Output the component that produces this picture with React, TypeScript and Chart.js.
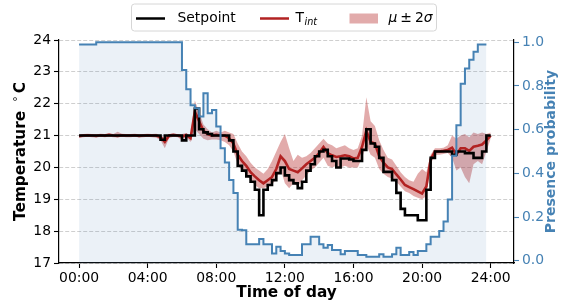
import React, { useEffect, useRef } from 'react';
import { Chart, registerables } from 'chart.js';

Chart.register(...registerables);

// Time of day (hours), 15-minute sampling
const HOURS = [0,0.25,0.5,0.75,1,1.25,1.5,1.75,2,2.25,2.5,2.75,3,3.25,3.5,3.75,4,4.25,4.5,4.75,5,5.25,5.5,5.75,6,6.25,6.5,6.75,7,7.25,7.5,7.75,8,8.25,8.5,8.75,9,9.25,9.5,9.75,10,10.25,10.5,10.75,11,11.25,11.5,11.75,12,12.25,12.5,12.75,13,13.25,13.5,13.75,14,14.25,14.5,14.75,15,15.25,15.5,15.75,16,16.25,16.5,16.75,17,17.25,17.5,17.75,18,18.25,18.5,18.75,19,19.25,19.5,19.75,20,20.25,20.5,20.75,21,21.25,21.5,21.75,22,22.25,22.5,22.75,23,23.25,23.5,23.75,24];

const SETPOINT = [21,21,21,21,21,21,21,21,21,21,21,21,21,21,21,21,21,21,21,20.87,21,21,21,21,20.85,21,21,21.85,21.2,21.1,21.05,21,21,21,21,20.85,20.5,20.05,19.9,19.72,19.55,19.3,18.5,19.3,19.45,19.6,19.82,20.0,19.75,19.6,19.5,19.35,19.55,19.9,20.1,20.35,20.5,20.55,20.35,20.2,20.0,20.28,20.28,20.25,20.2,20.2,20.55,21.2,20.75,20.65,20.3,19.86,19.86,19.6,19.2,18.7,18.5,18.5,18.5,18.34,18.34,19.3,20.3,20.5,20.5,20.5,20.5,20.4,20.5,20.5,20.45,20.45,20.3,20.3,20.5,21.0,21.0];

const T_INT = [20.98,21.0,21.01,21.0,20.99,21.01,21.0,21.02,21.0,20.99,21.01,21.0,21.0,21.01,20.99,21.0,21.01,21.0,21.0,20.95,20.8,21.0,21.02,21.0,20.97,21.02,20.92,21.75,21.45,21.15,21.05,21.0,21.02,21.0,21.0,20.92,20.75,20.4,20.2,20.05,19.85,19.72,19.6,19.5,19.6,19.7,19.95,20.35,20.2,19.95,19.9,19.85,19.97,20.1,20.2,20.3,20.45,20.64,20.45,20.38,20.33,20.35,20.38,20.35,20.28,20.3,20.65,21.15,20.8,20.75,20.35,20.15,20.0,19.95,19.78,19.62,19.45,19.38,19.32,19.25,19.18,19.4,20.25,20.5,20.5,20.52,20.55,20.62,20.4,20.6,20.6,20.52,20.65,20.68,20.72,20.85,21.0];

const BAND_HI = [21.04,21.05,21.06,21.05,21.04,21.06,21.05,21.07,21.05,21.12,21.06,21.05,21.05,21.06,21.04,21.05,21.06,21.05,21.06,21.0,20.95,21.05,21.06,21.05,21.05,21.08,21.0,22.1,21.75,21.35,21.2,21.1,21.15,21.1,21.15,21.1,21.05,20.75,20.5,20.35,20.15,20.0,19.9,19.8,19.95,20.2,20.5,20.8,21.05,20.6,20.2,20.4,20.3,20.35,20.45,20.6,20.75,20.9,20.75,20.7,20.6,20.65,20.7,20.6,20.55,20.6,21.0,22.2,21.45,21.3,20.85,20.55,20.3,20.25,20.05,19.85,19.7,19.6,19.55,19.8,19.95,19.85,20.4,20.6,20.6,20.62,20.7,21.0,20.9,21.0,21.05,20.95,21.1,21.05,21.1,21.05,21.1];

const BAND_LO = [20.93,20.95,20.96,20.95,20.94,20.96,20.95,20.96,20.95,20.94,20.96,20.95,20.95,20.96,20.94,20.95,20.96,20.95,20.93,20.85,20.6,20.92,20.96,20.95,20.85,20.95,20.8,21.2,21.05,20.9,20.85,20.88,20.88,20.85,20.8,20.7,20.5,20.1,19.9,19.8,19.6,19.45,19.35,19.35,19.4,19.45,19.65,19.95,19.5,19.35,19.5,19.4,19.6,19.75,19.9,20.0,20.15,20.3,20.05,20.0,20.05,20.0,20.05,20.0,20.0,20.0,20.3,20.7,20.4,20.3,19.95,19.8,19.7,19.65,19.55,19.4,19.25,19.2,19.1,19.05,19.0,19.1,20.1,20.4,20.4,20.42,20.45,20.3,19.9,20.0,19.7,19.5,20.1,20.2,20.1,20.5,20.9];

// Presence probability, 15-minute steps (last entry closes the final step at 23:45)
const PRESENCE = [0.99,0.99,0.99,0.99,1,1,1,1,1,1,1,1,1,1,1,1,1,1,1,1,1,1,1,1,0.873,0.785,0.712,0.698,0.66,0.767,0.675,0.69,0.614,0.515,0.45,0.37,0.31,0.142,0.14,0.075,0.075,0.075,0.099,0.075,0.075,0.033,0.064,0.044,0.033,0.026,0.026,0.026,0.075,0.075,0.11,0.11,0.075,0.059,0.072,0.049,0.049,0.029,0.044,0.044,0.044,0.026,0.026,0.018,0.018,0.018,0.029,0.018,0.018,0.03,0.059,0.026,0.026,0.04,0.026,0.044,0.044,0.075,0.11,0.11,0.136,0.18,0.28,0.48,0.62,0.81,0.88,0.92,0.957,0.99,0.99,0.99];

const X_TICKS = [0, 4, 8, 12, 16, 20, 24];
const X_TICK_LABELS = ['00:00', '04:00', '08:00', '12:00', '16:00', '20:00', '24:00'];
const Y_TICKS = [17, 18, 19, 20, 21, 22, 23, 24];
const Y2_TICKS = [0, 0.2, 0.4, 0.6, 0.8, 1.0];
const Y2_TICK_LABELS = ['0.0', '0.2', '0.4', '0.6', '0.8', '1.0'];

const BLUE = '#4682b4';
const RED = '#b22222';
const BAND = 'rgba(178,34,34,0.38)';
const FONT = '"DejaVu Sans", sans-serif';

const pts = (ys: number[]) => ys.map((y, i) => ({ x: HOURS[i], y }));

const decorPlugin = {
  id: 'decor',
  afterDraw(chart: any) {
    const ctx = chart.ctx as CanvasRenderingContext2D;
    const ca = chart.chartArea;
    const cy = (ca.top + ca.bottom) / 2;
    ctx.save();
    // X title
    ctx.font = `bold 15.3px ${FONT}`;
    ctx.fillStyle = '#000';
    ctx.textAlign = 'center';
    ctx.textBaseline = 'middle';
    ctx.fillText('Time of day', (ca.left + ca.right) / 2, 293);

    // Left title: Temperature °C
    ctx.save();
    ctx.translate(21.5, cy);
    ctx.rotate(-Math.PI / 2);
    ctx.textAlign = 'left';
    ctx.textBaseline = 'middle';
    ctx.font = `bold 15.3px ${FONT}`;
    const w1 = ctx.measureText('Temperature').width;
    ctx.font = `11px ${FONT}`;
    const w2 = ctx.measureText('\u00b0').width;
    ctx.font = `bold 15.3px ${FONT}`;
    const w3 = ctx.measureText('C').width;
    const gap1 = 9;
    const gap2 = 3;
    const total = w1 + gap1 + w2 + gap2 + w3;
    let x0 = -total / 2;
    ctx.fillText('Temperature', x0, 0);
    x0 += w1 + gap1;
    ctx.font = `11px ${FONT}`;
    ctx.fillText('\u00b0', x0, -3);
    x0 += w2 + gap2;
    ctx.font = `bold 15.3px ${FONT}`;
    ctx.fillText('C', x0, 0);
    ctx.restore();

    // Right title
    ctx.save();
    ctx.translate(551.5, cy);
    ctx.rotate(-Math.PI / 2);
    ctx.textAlign = 'center';
    ctx.textBaseline = 'middle';
    ctx.font = `bold 14px ${FONT}`;
    ctx.fillStyle = BLUE;
    ctx.fillText('Presence probability', 0, 0);
    ctx.restore();

    // Legend
    const bx = 131.5, by = 4, bw = 305, bh = 27, r = 3;
    ctx.beginPath();
    ctx.moveTo(bx + r, by);
    ctx.lineTo(bx + bw - r, by);
    ctx.arcTo(bx + bw, by, bx + bw, by + r, r);
    ctx.lineTo(bx + bw, by + bh - r);
    ctx.arcTo(bx + bw, by + bh, bx + bw - r, by + bh, r);
    ctx.lineTo(bx + r, by + bh);
    ctx.arcTo(bx, by + bh, bx, by + bh - r, r);
    ctx.lineTo(bx, by + r);
    ctx.arcTo(bx, by, bx + r, by, r);
    ctx.closePath();
    ctx.fillStyle = 'rgba(255,255,255,0.8)';
    ctx.fill();
    ctx.strokeStyle = '#d6d6d6';
    ctx.lineWidth = 1;
    ctx.stroke();

    const ly = 18.5;
    ctx.lineWidth = 2.5;
    ctx.strokeStyle = '#000';
    ctx.beginPath(); ctx.moveTo(136, ly); ctx.lineTo(165, ly); ctx.stroke();
    ctx.strokeStyle = RED;
    ctx.beginPath(); ctx.moveTo(260, ly); ctx.lineTo(289, ly); ctx.stroke();
    ctx.fillStyle = BAND;
    ctx.fillRect(349.5, 13.5, 28.5, 10);

    ctx.fillStyle = '#000';
    ctx.textAlign = 'left';
    ctx.textBaseline = 'middle';
    ctx.font = `13.9px ${FONT}`;
    ctx.fillText('Setpoint', 177.5, ly);
    ctx.fillText('T', 295.5, ly);
    const tw = ctx.measureText('T').width;
    ctx.font = `italic 9.7px ${FONT}`;
    ctx.fillText('int', 295.5 + tw + 0.5, ly + 3.5);
    // mu ± 2 sigma
    let mx = 388.5;
    ctx.font = `italic 13.9px ${FONT}`;
    ctx.fillText('\u03bc', mx, ly);
    mx += ctx.measureText('\u03bc').width + 3;
    ctx.font = `13.9px ${FONT}`;
    ctx.fillText('\u00b1', mx, ly);
    mx += ctx.measureText('\u00b1').width + 3;
    ctx.fillText('2', mx, ly);
    mx += ctx.measureText('2').width;
    ctx.font = `italic 13.9px ${FONT}`;
    ctx.fillText('\u03c3', mx, ly);

    ctx.restore();
  },
};

export default function App() {
  const ref = useRef<HTMLCanvasElement | null>(null);
  useEffect(() => {
    if (!ref.current) return;
    const chart = new Chart(ref.current, {
      type: 'line',
      data: {
        datasets: [
          {
            label: 'Presence',
            data: PRESENCE.map((y, i) => ({ x: HOURS[i], y })),
            yAxisID: 'y2',
            stepped: 'before',
            borderColor: BLUE,
            borderWidth: 2,
            fill: 'start',
            backgroundColor: 'rgba(70,130,180,0.11)',
            pointRadius: 0,
            order: 0,
          },
          {
            label: 'Setpoint',
            data: pts(SETPOINT),
            yAxisID: 'y',
            stepped: 'before',
            borderColor: '#000',
            borderWidth: 2.6,
            pointRadius: 0,
            fill: false,
            order: 1,
          },
          {
            label: 'T_int',
            data: pts(T_INT),
            yAxisID: 'y',
            borderColor: RED,
            borderWidth: 2.6,
            pointRadius: 0,
            fill: false,
            tension: 0,
            order: 2,
          },
          {
            label: 'hi',
            data: pts(BAND_HI),
            yAxisID: 'y',
            borderWidth: 0,
            borderColor: 'rgba(0,0,0,0)',
            backgroundColor: BAND,
            pointRadius: 0,
            fill: '+1',
            order: 3,
          },
          {
            label: 'lo',
            data: pts(BAND_LO),
            yAxisID: 'y',
            borderWidth: 0,
            borderColor: 'rgba(0,0,0,0)',
            pointRadius: 0,
            fill: false,
            order: 4,
          },
        ],
      },
      options: {
        animation: false,
        responsive: false,
        layout: { padding: { top: 40, left: 0, right: 0, bottom: 0 } },
        plugins: {
          legend: { display: false },
          tooltip: { enabled: false },
          filler: { drawTime: 'beforeDatasetsDraw' },
        } as any,
        scales: {
          x: {
            type: 'linear',
            min: -1.17,
            max: 25.36,
            afterBuildTicks: (s: any) => { s.ticks = X_TICKS.map((v) => ({ value: v })); },
            afterFit: (s: any) => { s.height = 42; },
            ticks: {
              autoSkip: false,
              maxRotation: 0,
              padding: 2,
              color: '#000',
              font: { family: FONT, size: 13.9 },
              callback: (_v: any, i: number) => X_TICK_LABELS[i],
            },
            grid: { display: true, drawOnChartArea: false, drawTicks: true, tickLength: 5, tickColor: '#000', tickWidth: 1.1 },
            border: { display: true, color: '#000', width: 1.2 },
          },
          y: {
            position: 'left',
            min: 17,
            max: 24,
            afterBuildTicks: (s: any) => { s.ticks = Y_TICKS.map((v) => ({ value: v })); },
            afterFit: (s: any) => { s.width = 59; },
            ticks: {
              autoSkip: false,
              padding: 3,
              color: '#000',
              font: { family: FONT, size: 13.9 },
              callback: (v: any) => String(v),
            },
            grid: { color: '#cfcfcf', lineWidth: 1, drawTicks: true, tickLength: 5, tickColor: '#000', tickWidth: 1.1 },
            border: { display: true, color: '#000', width: 1.2, dash: [4, 2] },
          },
          y2: {
            position: 'right',
            min: -0.0105,
            max: 1.0105,
            afterBuildTicks: (s: any) => { s.ticks = Y2_TICKS.map((v) => ({ value: v })); },
            afterFit: (s: any) => { s.width = 51; },
            ticks: {
              autoSkip: false,
              padding: 3,
              color: BLUE,
              font: { family: FONT, size: 13.9 },
              callback: (_v: any, i: number) => Y2_TICK_LABELS[i],
            },
            grid: { display: true, drawOnChartArea: false, drawTicks: true, tickLength: 5, tickColor: BLUE, tickWidth: 1.1 },
            border: { display: true, color: '#000', width: 1.2 },
          },
        },
      } as any,
      plugins: [decorPlugin],
    });
    return () => chart.destroy();
  }, []);

  return (
    <div style={{ position: 'absolute', left: 0, top: 0, width: 565, height: 305 }}>
      <canvas ref={ref} width={565} height={305} style={{ display: 'block' }} />
    </div>
  );
}
